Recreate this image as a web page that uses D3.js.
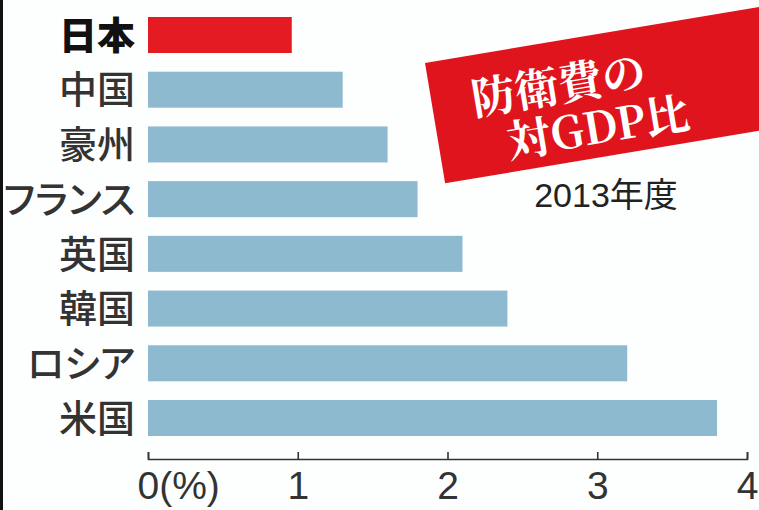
<!DOCTYPE html>
<html>
<head>
<meta charset="utf-8">
<script src="https://cdn.jsdelivr.net/npm/d3@7"></script>
<style>
  html, body { margin: 0; padding: 0; background: #fff; }
  svg { display: block; }
</style>
</head>
<body>
<svg id="chart" width="759" height="510"></svg>
<script>
const categories = ["日本", "中国", "豪州", "フランス", "英国", "韓国", "ロシア", "米国"];
const values = [0.96, 1.3, 1.6, 1.8, 2.1, 2.4, 3.2, 3.8];
const highlight = ["日本"];
const tickValues = [0, 1, 2, 3, 4];
const tickLabels = ["0", "1", "2", "3", "4"];
const titleLines = ["防衛費の", "対GDP比"];
const subtitle = "2013年度";
const unitLabel = "(%)";

const svg = d3.select("#chart");
const W = 759, H = 510;

svg.append("rect").attr("x", 0).attr("y", 0).attr("width", W).attr("height", H).attr("fill", "#fdfefe");
// left black frame edge
svg.append("rect").attr("x", 0).attr("y", 0).attr("width", 3).attr("height", H).attr("fill", "#111");

const x = d3.scaleLinear().domain([0, 4]).range([148, 747]);
const y = d3.scaleBand().domain(categories).range([17, 436]).paddingInner(0.342).paddingOuter(0);

// bars
svg.append("g").selectAll("rect").data(categories).join("rect")
  .attr("x", x(0))
  .attr("y", d => y(d))
  .attr("width", (d, i) => x(values[i]) - x(0))
  .attr("height", y.bandwidth())
  .attr("fill", d => highlight.includes(d) ? "#e41b23" : "#8dbacf");

// category labels
svg.append("g").selectAll("text").data(categories).join("text")
  .attr("x", 135)
  .attr("y", d => y(d) + y.bandwidth() / 2)
  .attr("dy", "0.36em")
  .attr("text-anchor", "end")
  .style("font-family", "'Noto Sans CJK JP', sans-serif")
  .style("font-feature-settings", "'palt'")
  .style("font-size", "38px")
  .style("font-weight", d => highlight.includes(d) ? 900 : 500)
  .attr("fill", d => highlight.includes(d) ? "#111" : "#333")
  .text(d => d);

// axis
const axis = d3.axisBottom(x)
  .tickValues(tickValues)
  .tickFormat((d, i) => tickLabels[i])
  .tickSizeInner(-7)
  .tickSizeOuter(-7)
  .tickPadding(12);

const gAxis = svg.append("g").attr("transform", "translate(0,459)").call(axis);
gAxis.select(".domain").attr("stroke", "#333").attr("stroke-width", 1.6);
gAxis.selectAll(".tick line").attr("stroke", "#333").attr("stroke-width", 1.6);
gAxis.selectAll(".tick text")
  .style("font-family", "'Liberation Sans', Arial, sans-serif")
  .style("font-size", "39px")
  .attr("fill", "#333");
gAxis.selectAll(".tick text").filter(d => d === 0)
  .attr("text-anchor", "start")
  .attr("x", -11)
  .append("tspan").text(unitLabel);

// banner
const banner = svg.append("g").attr("transform", "translate(425,63) rotate(-9.5)");
banner.append("rect").attr("x", 0).attr("y", 0).attr("width", 430).attr("height", 122).attr("fill", "#e0141c");
banner.selectAll("text").data(titleLines).join("text")
  .attr("x", (d, i) => i === 0 ? 128 : 160)
  .attr("y", (d, i) => i === 0 ? 44 : 92)
  .attr("dy", "0.36em")
  .attr("text-anchor", "middle")
  .style("font-family", "'Noto Serif CJK JP', 'Noto Sans CJK JP', serif")
  .style("font-size", "44px")
  .style("font-weight", 700)
  .attr("fill", "#fff")
  .text(d => d);

svg.append("text")
  .attr("x", 606)
  .attr("y", 207)
  .attr("text-anchor", "middle")
  .style("font-family", "'Liberation Sans', 'Noto Sans CJK JP', sans-serif")
  .style("font-size", "34px")
  .attr("fill", "#222")
  .text(subtitle);
</script>
</body>
</html>
